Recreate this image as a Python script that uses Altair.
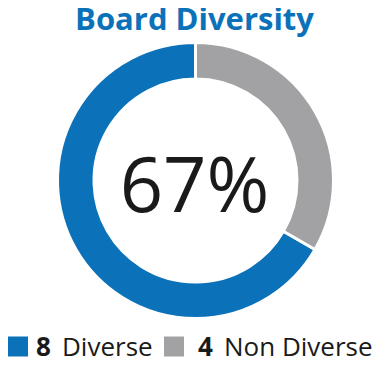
import altair as alt
import pandas as pd

# ---- data ----
categories = ["Diverse", "Non Diverse"]
counts = [8, 4]
colors = ["#0b72b9", "#a2a2a4"]
draw_order = [1, 0]          # grey slice starts at 12 o'clock
title_text = "Board Diversity"

share = round(counts[0] / sum(counts) * 100)
center_label = f"{share}%"

df = pd.DataFrame({"category": categories, "count": counts, "order": draw_order})

FONT = "Open Sans"
W, H = 372, 349
CX, CY = 187.5, 172.5

arc = alt.Chart(df).mark_arc(
    outerRadius=138, innerRadius=101.5, stroke="white", strokeWidth=3
).encode(
    theta=alt.Theta("count:Q", stack=True),
    order=alt.Order("order:Q"),
    color=alt.Color("category:N", scale=alt.Scale(domain=categories, range=colors), legend=None),
    x=alt.value(CX),
    y=alt.value(CY),
)

center = alt.Chart(pd.DataFrame({"t": [center_label]})).mark_text(
    font=FONT, fontSize=76, color="#1a1a1a", align="center", baseline="alphabetic"
).encode(text="t:N", x=alt.value(CX - 1), y=alt.value(204))

title = alt.Chart(pd.DataFrame({"t": [title_text]})).mark_text(
    font=FONT, fontSize=31, fontWeight="bold", color=colors[0], align="center", baseline="alphabetic"
).encode(text="t:N", x=alt.value(186.5), y=alt.value(22))

# legend built from marks
leg_x = [[0, 28, 54], [156, 190, 216]]  # square-left, number, label
layers = [arc, center, title]
for i, cat in enumerate(categories):
    row = pd.DataFrame({"n": [str(counts[i])], "c": [cat]})
    sq = alt.Chart(row).mark_square(size=400, color=colors[i], opacity=1, shape="square").encode(
        x=alt.value(leg_x[i][0] + 10), y=alt.value(338.5)
    )
    num = alt.Chart(row).mark_text(
        font=FONT, fontSize=26, fontWeight="bold", color="#1a1a1a", align="left", baseline="alphabetic"
    ).encode(text="n:N", x=alt.value(leg_x[i][1]), y=alt.value(347.5))
    lab = alt.Chart(row).mark_text(
        font=FONT, fontSize=26, color="#1a1a1a", align="left", baseline="alphabetic"
    ).encode(text="c:N", x=alt.value(leg_x[i][2]), y=alt.value(347.5))
    layers += [sq, num, lab]

chart = alt.layer(*layers).properties(
    width=W, height=H, autosize="none", padding=0
).configure_view(stroke=None)

chart.save("out.html", embed_options={"renderer": "svg", "actions": False})
